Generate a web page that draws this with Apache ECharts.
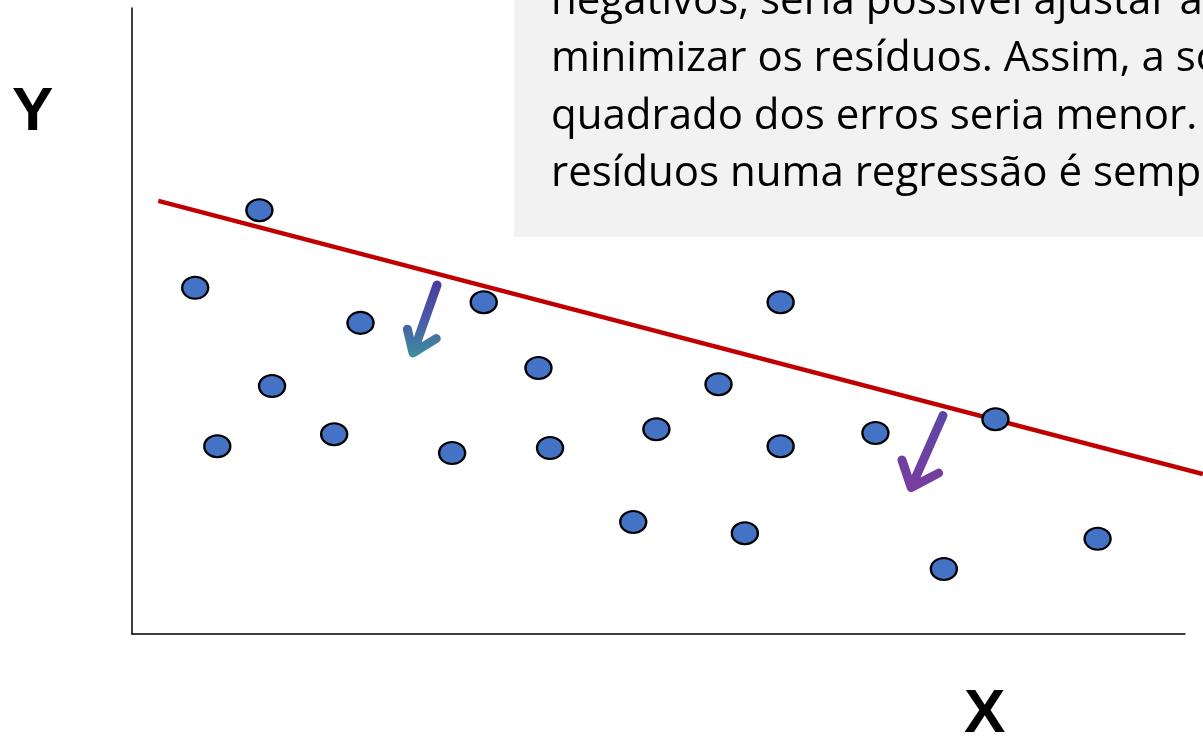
<!DOCTYPE html>
<html>
<head>
<meta charset="utf-8">
<script src="https://cdn.jsdelivr.net/npm/echarts@6/dist/echarts.min.js"></script>
<style>html,body{margin:0;padding:0;background:#fff;}#c{width:1203px;height:739px;}</style>
</head>
<body>
<div id="c"></div>
<script>
// Scatter points (x, y) in arbitrary units (axis 0..10)
const pointsX = [0.60, 1.21, 0.81, 1.33, 1.92, 2.17, 3.04, 3.34, 3.86, 3.97, 4.76, 4.98, 5.57, 5.82, 6.16, 6.16, 7.06, 7.71, 8.20, 9.17];
const pointsY = [5.53, 6.77, 3.00, 3.96, 3.19, 4.97, 2.89, 5.30, 4.25, 2.97, 1.79, 3.27, 3.99, 1.61, 5.30, 3.00, 3.21, 1.04, 3.43, 1.52];
// Regression line endpoints
const lineX = [0.25, 10.17];
const lineY = [6.92, 2.556];
// Arrows: shaft start, tip, left arm, tip, right arm
const arrow1X = [2.897, 2.669, 2.615, 2.669, 2.890];
const arrow1Y = [5.575, 4.490, 4.870, 4.490, 4.720];
const arrow2X = [7.702, 7.400, 7.312, 7.400, 7.660];
const arrow2Y = [3.490, 2.340, 2.780, 2.340, 2.570];
// Text box lines
const boxLines = [
  "negativos, seria possível ajustar a reta para",
  "minimizar os resíduos. Assim, a soma do",
  "quadrado dos erros seria menor. A soma dos",
  "resíduos numa regressão é sempre zero."
];
const xLabel = "X";
const yLabel = "Y";

const zip = (a, b) => a.map((v, i) => [v, b[i]]);
const chart = echarts.init(document.getElementById('c'), null, {renderer: 'canvas'});

const axisShown = {
  type: 'value', min: 0, max: 10,
  axisLine: {show: true, lineStyle: {color: '#000', width: 1.5}},
  axisTick: {show: false}, axisLabel: {show: false}, splitLine: {show: false}
};
const hidden = {show: false, splitLine: {show: false}};

const textEls = boxLines.map((t, i) => ({
  type: 'text', left: 551, top: -19 + i * 57.3, z: 101,
  style: {text: t, font: '42px "Open Sans"', fill: '#000'}
}));

chart.setOption({
  animation: false,
  grid: [
    {left: 132, top: 8, right: 18, bottom: 105},
    {left: 132, top: 8, right: 0, bottom: 105}
  ],
  xAxis: [
    Object.assign({gridIndex: 0}, axisShown),
    Object.assign({gridIndex: 1, type: 'value', min: 0, max: 10.171}, hidden)
  ],
  yAxis: [
    Object.assign({gridIndex: 0}, axisShown),
    Object.assign({gridIndex: 1, type: 'value', min: 0, max: 10}, hidden)
  ],
  series: [
    {
      type: 'line', xAxisIndex: 1, yAxisIndex: 1, data: zip(lineX, lineY), symbol: 'none', clip: false,
      lineStyle: {color: '#C00000', width: 4.5}, z: 3
    },
    {
      type: 'scatter', xAxisIndex: 1, yAxisIndex: 1, data: zip(pointsX, pointsY),
      symbol: 'path://M0 10A10 10 0 1 1 20 10A10 10 0 1 1 0 10Z',
      symbolSize: [26, 22],
      itemStyle: {color: '#4472C4', borderColor: '#000', borderWidth: 2.2, opacity: 1}, z: 4
    },
    {
      type: 'line', xAxisIndex: 1, yAxisIndex: 1, data: zip(arrow1X, arrow1Y), symbol: 'none', clip: false,
      lineStyle: {width: 9, cap: 'round', join: 'round',
        color: new echarts.graphic.LinearGradient(0, 0, 0, 1, [
          {offset: 0, color: '#4b3a9c'}, {offset: 0.5, color: '#4a5aa8'}, {offset: 1, color: '#3f8e9e'}])}
    },
    {
      type: 'line', xAxisIndex: 1, yAxisIndex: 1, data: zip(arrow2X, arrow2Y), symbol: 'none', clip: false,
      lineStyle: {width: 9, cap: 'round', join: 'round',
        color: new echarts.graphic.LinearGradient(0, 0, 0, 1, [
          {offset: 0, color: '#5c46a8'}, {offset: 1, color: '#7a3c9e'}])}
    }
  ],
  graphic: [
    {type: 'rect', left: 514, top: 0, z: 100, shape: {width: 689, height: 237}, style: {fill: '#f2f2f2'}},
    ...textEls,
    {type: 'text', left: 12, top: 82, style: {text: yLabel, font: 'bold 62px "Liberation Sans"', fill: '#000'}},
    {type: 'text', left: 964, top: 684, style: {text: xLabel, font: 'bold 62px "Liberation Sans"', fill: '#000'}}
  ]
});
</script>
</body>
</html>
